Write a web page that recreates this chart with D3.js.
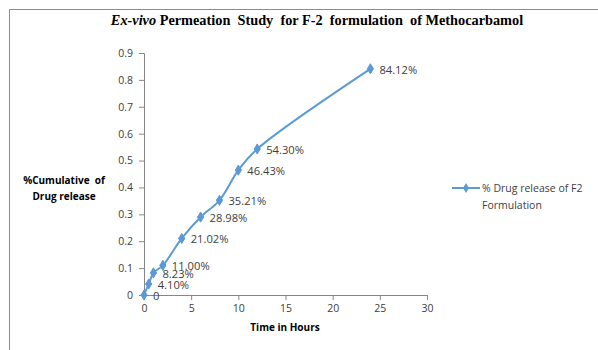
<!DOCTYPE html>
<html>
<head>
<meta charset="utf-8">
<script src="https://cdn.jsdelivr.net/npm/d3@7"></script>
<style>
  html, body { margin: 0; padding: 0; background: #fff; }
  svg { display: block; }
  text { font-family: "Open Sans", "Liberation Sans", sans-serif; fill: #404040; }
</style>
</head>
<body>
<svg id="chart" width="598" height="350"></svg>
<script>
// Sampling times (hours) and cumulative fraction of drug released
const hours = [0, 0.5, 1, 2, 4, 6, 8, 10, 12, 24];
const released = [0, 0.041, 0.0823, 0.11, 0.2102, 0.2898, 0.3521, 0.4643, 0.543, 0.8412];
const pointLabels = ["0", "4.10%", "8.23%", "11.00%", "21.02%", "28.98%", "35.21%", "46.43%", "54.30%", "84.12%"];
const yTicks = [0, 0.1, 0.2, 0.3, 0.4, 0.5, 0.6, 0.7, 0.8, 0.9];
const xTicks = [0, 5, 10, 15, 20, 25, 30];
const seriesName = ["% Drug release of F2", "Formulation"];

const svg = d3.select("#chart");
const blue = "#5B9BD5";
const axisGrey = "#868686";

// outer frame (open to the right and bottom)
svg.append("path")
  .attr("d", "M9.5,360 V9.5 H610")
  .attr("fill", "none").attr("stroke", "#8c8c8c").attr("stroke-width", 1);

const x = d3.scaleLinear().domain([0, 30]).range([144, 427]);
const y = d3.scaleLinear().domain([0, 0.9]).range([295, 53]);

// Title
const title = svg.append("text")
  .attr("x", 317).attr("y", 25)
  .attr("text-anchor", "middle")
  .style("font-family", "'Liberation Serif', 'Times New Roman', serif")
  .style("font-weight", "bold").style("font-size", "14.3px")
  .style("fill", "#000");
title.append("tspan").style("font-style", "italic").text("Ex-vivo");
title.append("tspan").attr("xml:space", "preserve").text(" Permeation  Study  for F-2  formulation  of Methocarbamol");

// Y axis
const yAxis = svg.append("g")
  .attr("transform", "translate(144,0)")
  .call(d3.axisLeft(y).tickValues(yTicks).tickSize(5).tickPadding(6)
    .tickFormat(d => d === 0 ? "0" : d3.format(".1f")(d)));
yAxis.select(".domain").attr("stroke", axisGrey);
yAxis.selectAll(".tick line").attr("stroke", axisGrey);
yAxis.selectAll("text").style("font-size", "10.5px").style("fill", "#404040")
  .style("font-family", "'Open Sans', sans-serif");

// X axis
const xAxis = svg.append("g")
  .attr("transform", "translate(0,295)")
  .call(d3.axisBottom(x).tickValues(xTicks).tickSize(5).tickPadding(5));
xAxis.select(".domain").attr("stroke", axisGrey);
xAxis.selectAll(".tick line").attr("stroke", axisGrey);
xAxis.selectAll("text").style("font-size", "10.5px").style("fill", "#404040")
  .style("font-family", "'Open Sans', sans-serif");

// Axis titles
const yTitle = svg.append("text")
  .attr("text-anchor", "middle")
  .style("font-weight", "bold").style("font-size", "10px").style("fill", "#000");
yTitle.append("tspan").attr("x", 64).attr("y", 184).attr("xml:space", "preserve").text("%Cumulative  of");
yTitle.append("tspan").attr("x", 64).attr("y", 200).text("Drug release");

svg.append("text")
  .attr("x", 285).attr("y", 331)
  .attr("text-anchor", "middle")
  .style("font-weight", "bold").style("font-size", "10px").style("fill", "#000")
  .text("Time in Hours");

// Series line (smoothed)
const pts = hours.map((h, i) => ({ h, v: released[i], label: pointLabels[i] }));
const line = d3.line().x(d => x(d.h)).y(d => y(d.v)).curve(d3.curveCatmullRom.alpha(0.5));
svg.append("path").datum(pts)
  .attr("d", line)
  .attr("fill", "none").attr("stroke", blue).attr("stroke-width", 2);

// Markers (four-pointed star/diamond)
const marker = d3.symbol().type(d3.symbolDiamond).size(30);
svg.selectAll(".mk").data(pts).join("path")
  .attr("class", "mk")
  .attr("d", marker)
  .attr("transform", d => `translate(${x(d.h)},${y(d.v)})`)
  .attr("fill", blue).attr("stroke", blue).attr("stroke-width", 1);
svg.selectAll(".mk2").data(pts).join("path")
  .attr("class", "mk2")
  .attr("d", d3.symbol().type(d3.symbolCross).size(22))
  .attr("transform", d => `translate(${x(d.h)},${y(d.v)})`)
  .attr("fill", blue);

// Data labels
svg.selectAll(".lbl").data(pts).join("text")
  .attr("class", "lbl")
  .attr("x", d => x(d.h) + 9)
  .attr("y", d => y(d.v) + 5)
  .style("font-size", "11.2px").style("fill", "#404040")
  .text(d => d.label);

// Legend
const lg = svg.append("g");
lg.append("line").attr("x1", 452).attr("x2", 480).attr("y1", 188).attr("y2", 188)
  .attr("stroke", blue).attr("stroke-width", 2);
lg.append("path").attr("d", marker).attr("transform", "translate(466,188)").attr("fill", blue);
const lt = lg.append("text").style("font-size", "10.5px").style("fill", "#404040");
lt.append("tspan").attr("x", 482).attr("y", 192).text(seriesName[0]);
lt.append("tspan").attr("x", 482).attr("y", 209).text(seriesName[1]);
</script>
</body>
</html>
